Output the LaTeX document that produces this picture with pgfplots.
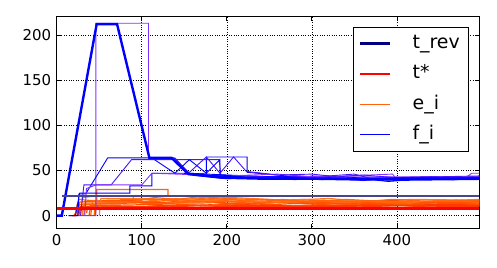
\documentclass[border=0pt]{standalone}
\usepackage{pgfplots}
\pgfplotsset{compat=1.18}
\usepackage{fontspec}
\setmainfont{DejaVu Sans}
\definecolor{trevplot}{RGB}{70,70,140}
\definecolor{trevleg}{RGB}{0,0,128}
\definecolor{fblue}{RGB}{0,0,255}
\definecolor{fviol}{RGB}{130,50,255}
\definecolor{fmid}{RGB}{70,20,255}
\definecolor{eor}{RGB}{255,100,10}
\definecolor{eorb}{RGB}{255,80,0}
\definecolor{eorc}{RGB}{255,120,30}
\definecolor{ered}{RGB}{255,55,0}
\pgfplotsset{mylegimg/.style={legend image code/.code={\draw[##1] (5bp,0bp) -- (35bp,0bp);}}}
\begin{document}
\begin{tikzpicture}
\path[use as bounding box] (-56.7bp,-39.7bp) rectangle (440.3bp,228.3bp);
\begin{axis}[
  at={(0,0)}, anchor=south west,
  scale only axis, width=422.6bp, height=211.6bp,
  xmin=0, xmax=497, ymin=-14, ymax=220.3,
  xtick={0,100,200,300,400}, ytick={0,50,100,150,200},
  tick align=inside, major tick length=4bp,
  tick style={black, line width=0.6bp},
  axis line style={black, line width=0.8bp},
  grid=major, grid style={black, dotted, line width=0.5bp},
  ticklabel style={font=\fontsize{15}{18}\selectfont},
  /pgf/number format/assume math mode=true,
  xticklabel style={yshift=-3bp},
  yticklabel style={xshift=-2bp},
  legend style={at={(0.976,0.951)}, anchor=north east, draw=black, line width=0.8bp,
     font=\fontsize{19}{22}\selectfont, inner xsep=6bp, inner ysep=4bp,
     row sep=6.5bp,
     /tikz/every odd column/.append style={column sep=18bp},
     nodes={text height=15bp, text depth=5bp, inner xsep=3bp}},
  legend cell align=left,
]
% e_i lines (orange)
\addplot[eor, line width=1.2bp, forget plot] coordinates {(18,0) (22,0) (24,12) (47,12) (47,29) (131,29) (131,22) (170,21) (200,19) (260,17) (330,15) (400,16) (497,14)};
\addplot[eorb, line width=1.2bp, forget plot] coordinates {(25,0) (27,15) (60,17) (100,17) (100,14) (170,14) (230,16) (300,13) (380,15) (497,13)};
\addplot[ered, line width=1.2bp, forget plot] coordinates {(20,0) (24,5) (40,9) (110,10) (180,12) (260,11) (360,12) (497,12)};
\addplot[eorc, line width=1.2bp, forget plot] coordinates {(30,0) (32,14) (80,14) (140,19) (200,13) (280,15) (350,14) (440,16) (497,15)};
\addplot[eor, line width=1.2bp, forget plot] coordinates {(22,2) (26,18) (60,15) (120,16) (160,20) (210,15) (290,18) (380,13) (497,16)};
\addplot[eorb, line width=1.2bp, forget plot] coordinates {(35,3) (37,10) (100,10) (150,12) (240,10) (310,12) (420,11) (497,11)};
\addplot[eorc, line width=1.2bp, forget plot] coordinates {(28,0) (30,20) (47,22) (90,22) (90,18) (150,18) (180,21) (230,19) (270,17) (320,19) (360,16) (420,18) (497,17)};
\addplot[eor, line width=1.2bp, forget plot] coordinates {(40,0) (42,16) (70,16) (120,13) (190,17) (250,14) (310,16) (400,14) (460,17) (497,16)};
\addplot[ered, line width=1.2bp, forget plot] coordinates {(26,0) (28,10) (60,11) (140,9) (200,10) (300,10) (400,11) (497,10)};
\addplot[eorb, line width=1.2bp, forget plot] coordinates {(45,0) (47,13) (130,15) (165,17) (215,12) (275,16) (345,13) (390,17) (450,14) (497,15)};
\addplot[eorc, line width=1.2bp, forget plot] coordinates {(50,0) (52,19) (110,19) (145,16) (205,18) (255,15) (335,17) (410,15) (497,18)};
\addplot[eor, line width=1.2bp, forget plot] coordinates {(32,0) (33,13) (75,13) (75,18) (125,18) (160,15) (200,16) (235,13) (265,18) (300,15) (340,18) (380,16) (430,13) (470,17) (497,14)};
\addplot[eorb, line width=1.2bp, forget plot] coordinates {(38,0) (40,11) (95,12) (135,13) (175,11) (220,14) (250,12) (290,14) (330,11) (370,14) (410,12) (450,15) (497,12)};
\addplot[eor, line width=1.2bp, forget plot] coordinates {(44,0) (46,15) (85,15) (115,20) (155,17) (185,19) (215,17) (245,18) (285,16) (315,17) (355,15) (395,18) (435,16) (497,17)};
\addplot[ered, line width=1.2bp, forget plot] coordinates {(24,0) (26,7) (65,8) (120,11) (175,9) (225,12) (285,10) (345,11) (405,9) (460,12) (497,11)};
% f_i lines (blue / violet)
\addplot[fviol, line width=0.9bp, forget plot] coordinates {(14,0) (46,0) (46,213) (108,213) (108,64) (137,63) (155,46) (200,43) (497,43)};
\addplot[fblue, line width=0.9bp, forget plot] coordinates {(14,0) (25,0) (26,24) (34,24) (60,64) (138,64) (156,47) (176,46) (176,65) (224,65) (224,48) (270,44) (330,42) (497,42)};
\addplot[fmid, line width=0.9bp, forget plot] coordinates {(28,0) (32,34) (64,34) (88,62) (191,62) (193,45) (250,43) (320,44) (350,46) (370,41) (497,43)};
\addplot[fblue, line width=0.9bp, forget plot] coordinates {(22,0) (27,25) (86,25) (86,33) (112,33) (112,47) (155,47) (200,45) (280,42) (400,40) (420,42) (497,42)};
\addplot[fviol, line width=0.9bp, forget plot] coordinates {(33,0) (35,30) (46,34) (100,34) (112,47) (200,44) (260,46) (300,43) (340,44) (395,46) (400,40) (480,41) (488,47) (497,47)};
\addplot[fmid, line width=0.9bp, forget plot] coordinates {(139,64) (155,47) (176,65) (192,47) (208,65) (223,49) (260,45) (300,46) (330,43) (360,45) (400,42) (497,44)};
\addplot[fblue, line width=0.9bp, forget plot] coordinates {(115,62) (139,47) (156,62) (176,47) (192,62) (192,45) (260,40) (340,41) (400,39) (497,40)};
\addplot[fblue, line width=1.2bp, forget plot] coordinates {(150,47) (190,44) (230,42) (270,43) (310,40) (350,42) (390,38) (430,41) (470,40) (497,42)};
\addplot[fmid, line width=1.2bp, forget plot] coordinates {(160,45) (200,41) (240,43) (280,40) (320,43) (360,39) (400,42) (440,43) (497,41)};
% thick blue
\addplot[fblue, line width=2.4bp, forget plot] coordinates {(0,0) (6,0) (47,212) (71,212) (109,64) (135,64) (155,46) (195,42) (240,41) (300,41) (360,40) (400,41) (497,41)};
% t_rev and t*
\addplot[trevplot, line width=2.4bp, forget plot] coordinates {(6,21.8) (497,21.8)};
\addplot[red, line width=2.4bp, forget plot] coordinates {(0,8) (497,8)};
\addlegendimage{mylegimg, draw=trevleg, line width=2.4bp}
\addlegendentry{t\_rev}
\addlegendimage{mylegimg, draw=red, line width=2.4bp}
\addlegendentry{t*}
\addlegendimage{mylegimg, draw=eor, line width=1bp}
\addlegendentry{e\_i}
\addlegendimage{mylegimg, draw=fblue, line width=1bp}
\addlegendentry{f\_i}
\end{axis}
\end{tikzpicture}
\end{document}
